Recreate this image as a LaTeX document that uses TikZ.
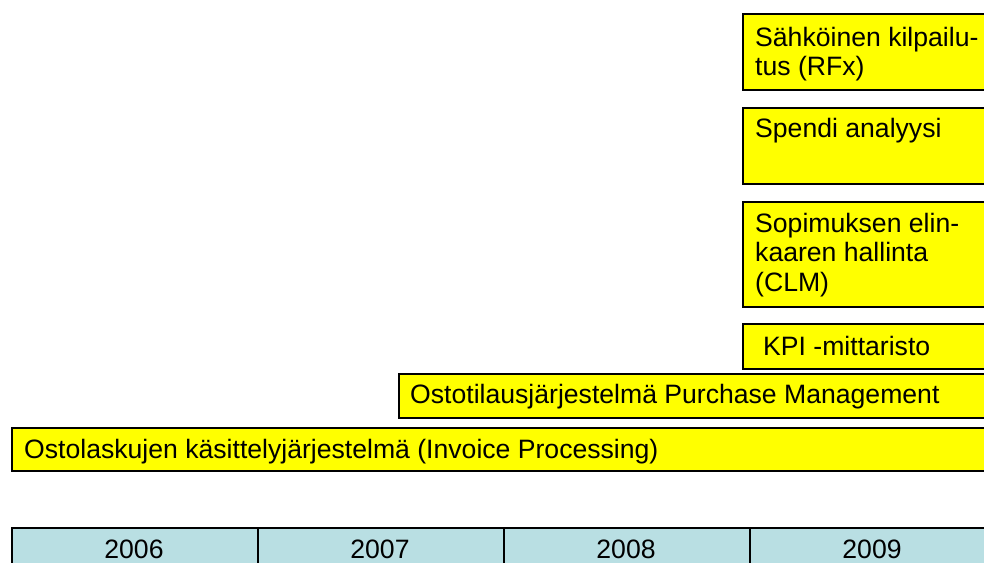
\documentclass[tikz,border=0pt]{standalone}
\usepackage{fontspec}
\setmainfont{Liberation Sans}
\definecolor{barfill}{HTML}{FFFF00}
\definecolor{yearfill}{HTML}{B9DFE3}
\begin{document}
\begin{tikzpicture}[x=1pt,y=-1pt,
  font=\fontsize{26.6}{29.5}\selectfont,
  bar/.style={draw=black, line width=2pt, fill=barfill, anchor=north west, inner sep=0pt},
  lbl/.style={anchor=base west, inner sep=0pt, align=left},
  yearcell/.style={draw=black, line width=2pt, fill=yearfill, anchor=north west,
                   inner sep=0pt, minimum width=246pt, minimum height=50pt},
  yearlbl/.style={anchor=base, inner sep=0pt}]
\useasboundingbox (0,0) rectangle (984,562);
\clip (0,0) rectangle (984,562);

% stacked solution bars, each running off to the right
\node[bar, minimum width=262pt, minimum height=76pt]  (rfx)  at (742,13)  {};
\node[bar, minimum width=262pt, minimum height=76pt]  (spend) at (742,107) {};
\node[bar, minimum width=262pt, minimum height=105pt] (clm)  at (742,201) {};
\node[bar, minimum width=262pt, minimum height=45pt]  (kpi)  at (742,323) {};
\node[bar, minimum width=606pt, minimum height=44pt]  (po)   at (398,373) {};
\node[bar, minimum width=993pt, minimum height=43pt]  (inv)  at (11,427)  {};

% labels; multi-line ones are placed by the baseline of their last line
\node[lbl] (rfxtext)   at (755,75.5) {Sähköinen kilpailu-\\tus (RFx)};
\node[lbl] (spendtext) at (755,137)  {Spendi analyysi};
\node[lbl] (clmtext)   at (755,291)  {Sopimuksen elin-\\kaaren hallinta\\(CLM)};
\node[lbl] (kpitext)   at (763,355)  {KPI -mittaristo};
\node[lbl] (potext)    at (410,403)  {Ostotilausjärjestelmä Purchase Management};
\node[lbl] (invtext)   at (24,458)   {Ostolaskujen käsittelyjärjestelmä (Invoice Processing)};

% year axis
\node[yearcell] (c2006) at (11,527)  {};
\node[yearcell] (c2007) at (257,527) {};
\node[yearcell] (c2008) at (503,527) {};
\node[yearcell] (c2009) at (749,527) {};
\node[yearlbl] (t2006) at (134,558) {2006};
\node[yearlbl] (t2007) at (380,558) {2007};
\node[yearlbl] (t2008) at (626,558) {2008};
\node[yearlbl] (t2009) at (872,558) {2009};
\end{tikzpicture}
\end{document}
